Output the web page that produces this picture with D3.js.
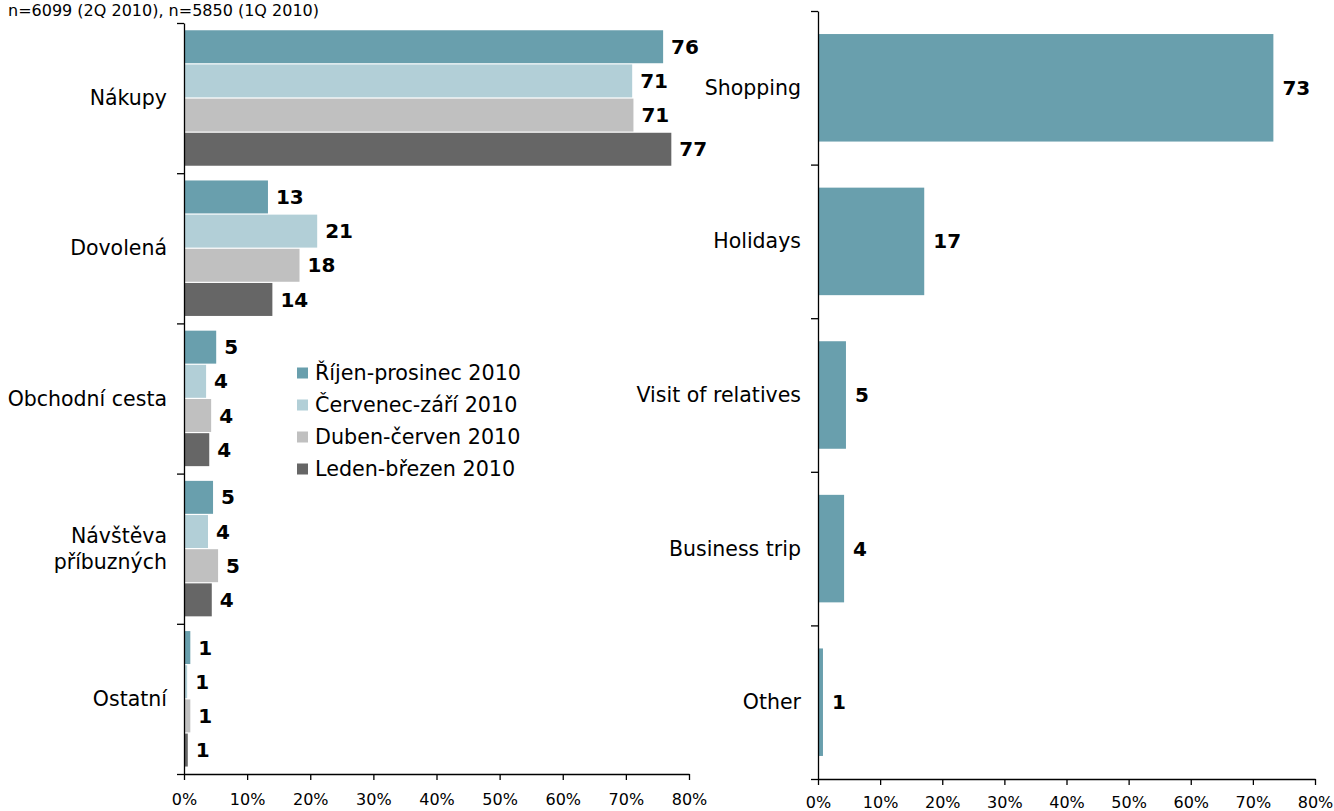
<!DOCTYPE html>
<html>
<head>
<meta charset="utf-8">
<script src="https://cdn.jsdelivr.net/npm/d3@7"></script>
<style>
  html, body { margin: 0; padding: 0; background: #fff; }
  svg { display: block; font-family: "DejaVu Sans", Verdana, sans-serif; }
</style>
</head>
<body>
<svg id="chart" width="1334" height="811"></svg>
<script>
// ---- Data ----
const noteText = "n=6099 (2Q 2010), n=5850 (1Q 2010)";
const leftCategories = ["Nákupy", "Dovolená", "Obchodní cesta", "Návštěva\npříbuzných", "Ostatní"];
const seriesNames = ["Říjen-prosinec 2010", "Červenec-září 2010", "Duben-červen 2010", "Leden-březen 2010"];
const seriesColors = ["#699fad", "#b2cfd7", "#c0c0c0", "#666666"];
const q4Values = [75.9, 13.3, 5.1, 4.6, 1.0];   // Říjen-prosinec 2010
const q3Values = [71.0, 21.1, 3.5, 3.8, 0.5];   // Červenec-září 2010
const q2Values = [71.2, 18.3, 4.3, 5.4, 1.0];   // Duben-červen 2010
const q1Values = [77.2, 14.0, 4.0, 4.4, 0.6];   // Leden-březen 2010
const leftLabels = [[76, 13, 5, 5, 1], [71, 21, 4, 4, 1], [71, 18, 4, 5, 1], [77, 14, 4, 4, 1]];

const rightCategories = ["Shopping", "Holidays", "Visit of relatives", "Business trip", "Other"];
const rightValues = [73.3, 17.1, 4.5, 4.2, 0.8];
const rightLabels = [73, 17, 5, 4, 1];

const xTicks = [0, 10, 20, 30, 40, 50, 60, 70, 80];

// ---- Drawing ----
const svg = d3.select("#chart");
const catFont = 20.5, tickFont = 16, valFont = 20;

svg.append("text").attr("x", 8).attr("y", 16)
  .attr("font-size", 16).attr("fill", "#000").text(noteText);

function drawYAxis(g, yBand, xPos, top, bottom) {
  const n = yBand.domain().length;
  const lin = d3.scaleLinear().domain([0, n]).range([top, bottom]);
  const ax = d3.axisLeft(lin).tickValues(d3.range(0, n + 1)).tickFormat("").tickSize(7).tickSizeOuter(0);
  const a = g.append("g").attr("transform", `translate(${xPos},0)`).call(ax);
  a.select(".domain").attr("stroke", "#000").attr("stroke-width", 1.3);
  a.selectAll(".tick line").attr("stroke", "#000").attr("stroke-width", 1.3);
}

function drawXAxis(g, x, yPos, pad) {
  const ax = d3.axisBottom(x).tickValues(xTicks).tickFormat(d => d + "%").tickSize(6).tickSizeOuter(0).tickPadding(pad);
  const a = g.append("g").attr("transform", `translate(0,${yPos})`).call(ax);
  a.select(".domain").attr("stroke", "#000").attr("stroke-width", 1.3);
  a.selectAll(".tick line").attr("stroke", "#000").attr("stroke-width", 1.3);
  a.selectAll(".tick text").attr("font-size", tickFont).attr("fill", "#000")
    .attr("font-family", '"DejaVu Sans", Verdana, sans-serif');
}

function drawCatLabels(g, y, cats, xPos) {
  cats.forEach(c => {
    const lines = c.split("\n");
    const cy = y(c) + y.bandwidth() / 2;
    const lh = 26;
    const t = g.append("text").attr("text-anchor", "end").attr("font-size", catFont).attr("fill", "#000");
    lines.forEach((ln, i) => {
      t.append("tspan").attr("x", xPos).attr("y", cy + (i - (lines.length - 1) / 2) * lh)
        .attr("dominant-baseline", "central").text(ln);
    });
  });
}

// Left chart
const L = svg.append("g");
const xL = d3.scaleLinear().domain([0, 80]).range([184, 689]);
const yL = d3.scaleBand().domain(leftCategories).range([23, 774]).paddingInner(0.09).paddingOuter(0.045);
const ySub = d3.scaleBand().domain(seriesNames).range([0, yL.bandwidth()]);
const leftSeries = [q4Values, q3Values, q2Values, q1Values];

leftSeries.forEach((vals, si) => {
  L.append("g").selectAll("rect").data(vals).join("rect")
    .attr("x", xL(0) + 0.7)
    .attr("y", (d, i) => yL(leftCategories[i]) + ySub(seriesNames[si]) + 0.5)
    .attr("width", d => xL(d) - xL(0) - 0.7)
    .attr("height", ySub.bandwidth() - 1.2)
    .attr("fill", seriesColors[si]);
  L.append("g").selectAll("text").data(vals).join("text")
    .attr("x", d => xL(d) + 8)
    .attr("y", (d, i) => yL(leftCategories[i]) + ySub(seriesNames[si]) + ySub.bandwidth() / 2)
    .attr("dominant-baseline", "central")
    .attr("font-size", valFont).attr("font-weight", "bold").attr("fill", "#000")
    .text((d, i) => leftLabels[si][i]);
});
drawYAxis(L, yL, xL(0), 23, 774);
drawXAxis(L, xL, 774, 14);
drawCatLabels(L, yL, leftCategories, 167);

// Legend
const legend = L.append("g");
seriesNames.forEach((s, i) => {
  const cy = 373 + i * 32;
  legend.append("rect").attr("x", 297).attr("y", cy - 5.5).attr("width", 11).attr("height", 11).attr("fill", seriesColors[i]);
  legend.append("text").attr("x", 315).attr("y", cy).attr("dominant-baseline", "central")
    .attr("font-size", 20.7).attr("fill", "#000").text(s);
});

// Right chart
const R = svg.append("g");
const xR = d3.scaleLinear().domain([0, 80]).range([818, 1315]);
const yR = d3.scaleBand().domain(rightCategories).range([11, 779]).paddingInner(0.3).paddingOuter(0.15);
R.append("g").selectAll("rect").data(rightValues).join("rect")
  .attr("x", xR(0) + 0.7)
  .attr("y", (d, i) => yR(rightCategories[i]))
  .attr("width", d => xR(d) - xR(0) - 0.7)
  .attr("height", yR.bandwidth())
  .attr("fill", seriesColors[0]);
R.append("g").selectAll("text").data(rightValues).join("text")
  .attr("x", d => xR(d) + 9)
  .attr("y", (d, i) => yR(rightCategories[i]) + yR.bandwidth() / 2)
  .attr("dominant-baseline", "central")
  .attr("font-size", valFont).attr("font-weight", "bold").attr("fill", "#000")
  .text((d, i) => rightLabels[i]);
drawYAxis(R, yR, xR(0), 11, 779);
drawXAxis(R, xR, 779, 12);
drawCatLabels(R, yR, rightCategories, 801);
</script>
</body>
</html>
